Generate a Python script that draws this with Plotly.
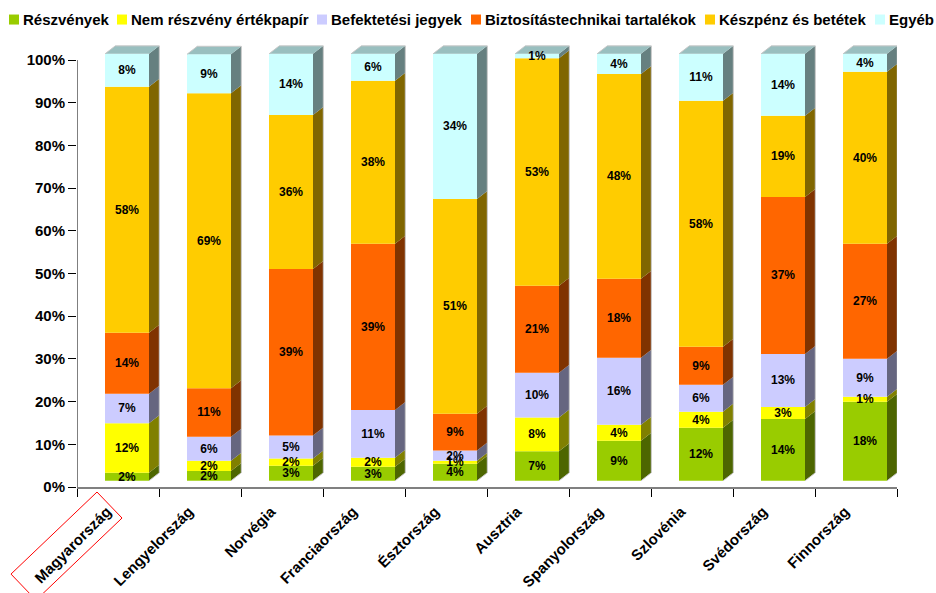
import numpy as np
import plotly.graph_objects as go

countries = ["Magyarország", "Lengyelország", "Norvégia", "Franciaország", "Észtország",
             "Ausztria", "Spanyolország", "Szlovénia", "Svédország", "Finnország"]
y_ticks = [0, 10, 20, 30, 40, 50, 60, 70, 80, 90, 100]

reszvenyek = [1.9, 2.3, 3.5, 3.3, 4.0, 6.9, 9.4, 12.4, 14.5, 18.5]
nem_reszveny = [11.6, 2.4, 1.7, 2.1, 0.7, 7.9, 3.7, 3.8, 2.8, 1.2]
befektetesi = [6.9, 5.6, 5.4, 11.2, 2.4, 10.5, 15.7, 6.3, 12.4, 8.9]
biztositas = [14.3, 11.4, 39.0, 38.9, 8.6, 20.4, 18.5, 8.9, 36.8, 26.9]
keszpenz = [57.6, 69.1, 36.1, 38.2, 50.3, 53.3, 48.0, 57.6, 19.0, 40.3]
egyeb = [7.7, 9.1, 14.3, 6.3, 34.0, 1.0, 4.7, 11.0, 14.5, 4.2]

reszvenyek_lbl = [2, 2, 3, 3, 4, 7, 9, 12, 14, 18]
nem_reszveny_lbl = [12, 2, 2, 2, 1, 8, 4, 4, 3, 1]
befektetesi_lbl = [7, 6, 5, 11, 2, 10, 16, 6, 13, 9]
biztositas_lbl = [14, 11, 39, 39, 9, 21, 18, 9, 37, 27]
keszpenz_lbl = [58, 69, 36, 38, 51, 53, 48, 58, 19, 40]
egyeb_lbl = [8, 9, 14, 6, 34, 1, 4, 11, 14, 4]

series_names = ["Részvények", "Nem részvény értékpapír", "Befektetési jegyek",
                "Biztosítástechnikai tartalékok", "Készpénz és betétek", "Egyéb"]
series_vals = [reszvenyek, nem_reszveny, befektetesi, biztositas, keszpenz, egyeb]
series_lbls = [reszvenyek_lbl, nem_reszveny_lbl, befektetesi_lbl, biztositas_lbl, keszpenz_lbl, egyeb_lbl]
front_colors = ["#99CC00", "#FFFF00", "#CCCCFF", "#FF6600", "#FFCC00", "#CCFFFF"]
side_colors = ["#4D6600", "#808000", "#666680", "#803300", "#806600", "#668080"]
top_color = "#99BFBF"
edge_color = "#C8C8C8"

W, H = 936, 593
L, R, B = 77, 897, 487
px_y = 4.265
Y_MAX = 104
T = B - Y_MAX * px_y
FONT = "Liberation Sans"
px_x = (R - L) / 10

bar_left = 28 / px_x
bar_w = 44 / px_x
depth_x = 10.3 / px_x
depth_y = 8 / px_y
floor = 6.2 / px_y

fig = go.Figure()
idx = np.arange(len(countries))
centers = idx + bar_left + bar_w / 2
base = np.full(len(countries), floor)
label_traces = []
for name, vals, lbls, fc, sc in zip(series_names, series_vals, series_lbls, front_colors, side_colors):
    vals = np.array(vals, dtype=float)
    fig.add_trace(go.Bar(
        x=centers, y=vals, base=base, width=bar_w, name=name,
        marker=dict(color=fc, line=dict(width=0)),
        showlegend=False, hoverinfo="x+y+name"))
    sx, sy = [], []
    for i in idx:
        r = i + bar_left + bar_w
        sx += [r, r + depth_x, r + depth_x, r, r, None]
        sy += [base[i], base[i] + depth_y, base[i] + vals[i] + depth_y, base[i] + vals[i], base[i], None]
    fig.add_trace(go.Scatter(x=sx, y=sy, mode="lines", fill="toself", fillcolor=sc,
                             line=dict(width=0, color=sc),
                             showlegend=False, hoverinfo="skip"))
    label_traces.append(go.Scatter(
        x=centers, y=base + vals / 2 - 1 / px_y, mode="text", text=[f"{v}%" for v in lbls],
        textposition="middle center", cliponaxis=False,
        textfont=dict(family=FONT, size=12, color="#000000", weight="bold"),
        showlegend=False, hoverinfo="skip"))
    base = base + vals

tx, ty, ex, ey = [], [], [], []
for i in idx:
    l = i + bar_left
    r = l + bar_w
    tx += [l, l + depth_x, r + depth_x, r, l, None]
    ty += [base[i], base[i] + depth_y, base[i] + depth_y, base[i], base[i], None]
    ex += [l, l + depth_x, r + depth_x, r + depth_x, r, None]
    ey += [base[i], base[i] + depth_y, base[i] + depth_y, floor + depth_y, floor, None]
fig.add_trace(go.Scatter(x=tx, y=ty, mode="lines", fill="toself", fillcolor=top_color,
                         line=dict(width=0, color=top_color),
                         showlegend=False, hoverinfo="skip"))
fig.add_trace(go.Scatter(x=ex, y=ey, mode="lines", line=dict(width=1, color=edge_color),
                         showlegend=False, hoverinfo="skip"))
for tr in label_traces:
    fig.add_trace(tr)

def pxx(p): return (p - L) / (R - L)
def pxy(p): return (B - p) / (B - T)

shapes, annos = [], []
legend_swatch_x = [9, 117, 317, 471, 705, 875]
legend_text_x = [21.5, 129.5, 329.5, 483.5, 717.5, 887.5]
for name, c, sx0, tx0 in zip(series_names, front_colors, legend_swatch_x, legend_text_x):
    shapes.append(dict(type="rect", xref="paper", yref="paper", x0=pxx(sx0), x1=pxx(sx0 + 10),
                       y0=pxy(25), y1=pxy(15), fillcolor=c, line=dict(width=0)))
    annos.append(dict(xref="paper", yref="paper", x=pxx(tx0), y=pxy(20), text=name, showarrow=False,
                      xanchor="left", yanchor="middle", borderpad=0,
                      font=dict(family=FONT, size=15, color="#000000", weight="bold")))

corners = [(97, 492), (122, 518), (36, 600), (11, 574)]
path = "M " + " L ".join(f"{pxx(a):.4f},{pxy(b):.4f}" for a, b in corners) + " Z"
shapes.append(dict(type="path", xref="paper", yref="paper", path=path, line=dict(color="#FF0000", width=1)))
shapes.append(dict(type="line", xref="x", yref="y", x0=0, x1=0, y0=0, y1=100, line=dict(color="#000000", width=1)))

fig.update_layout(
    width=W, height=H, barmode="overlay", showlegend=False,
    margin=dict(l=L, r=W - R, t=T, b=H - B, pad=0, autoexpand=False),
    paper_bgcolor="#FFFFFF", plot_bgcolor="#FFFFFF",
    shapes=shapes, annotations=annos,
    font=dict(family=FONT, color="#000000"),
    xaxis=dict(range=[0, 10], tickmode="array", tickvals=(idx + 0.5 - 11 / px_x).tolist(), ticktext=countries,
               tickangle=-45, ticks="outside", ticklen=8, tickcolor="rgba(0,0,0,0)", automargin=False,
               showgrid=False, zeroline=False, showline=True, linecolor="#808080", linewidth=2,
               tickfont=dict(family=FONT, size=15, color="#000000", weight="bold"),
               minor=dict(tickmode="array", tickvals=list(range(11)), ticks="outside", ticklen=8,
                          tickcolor="#000000", tickwidth=1, showgrid=False)),
    yaxis=dict(range=[0, Y_MAX], tickmode="array", tickvals=y_ticks, ticktext=[f"{v}%" for v in y_ticks],
               ticks="outside", ticklen=8, tickcolor="#000000", tickwidth=1, automargin=False,
               showgrid=False, zeroline=False, showline=False,
               tickfont=dict(family=FONT, size=15, color="#000000", weight="bold")),
)
fig.write_html("out.html", config={"displayModeBar": False}, post_script="document.body.style.margin='0';")
